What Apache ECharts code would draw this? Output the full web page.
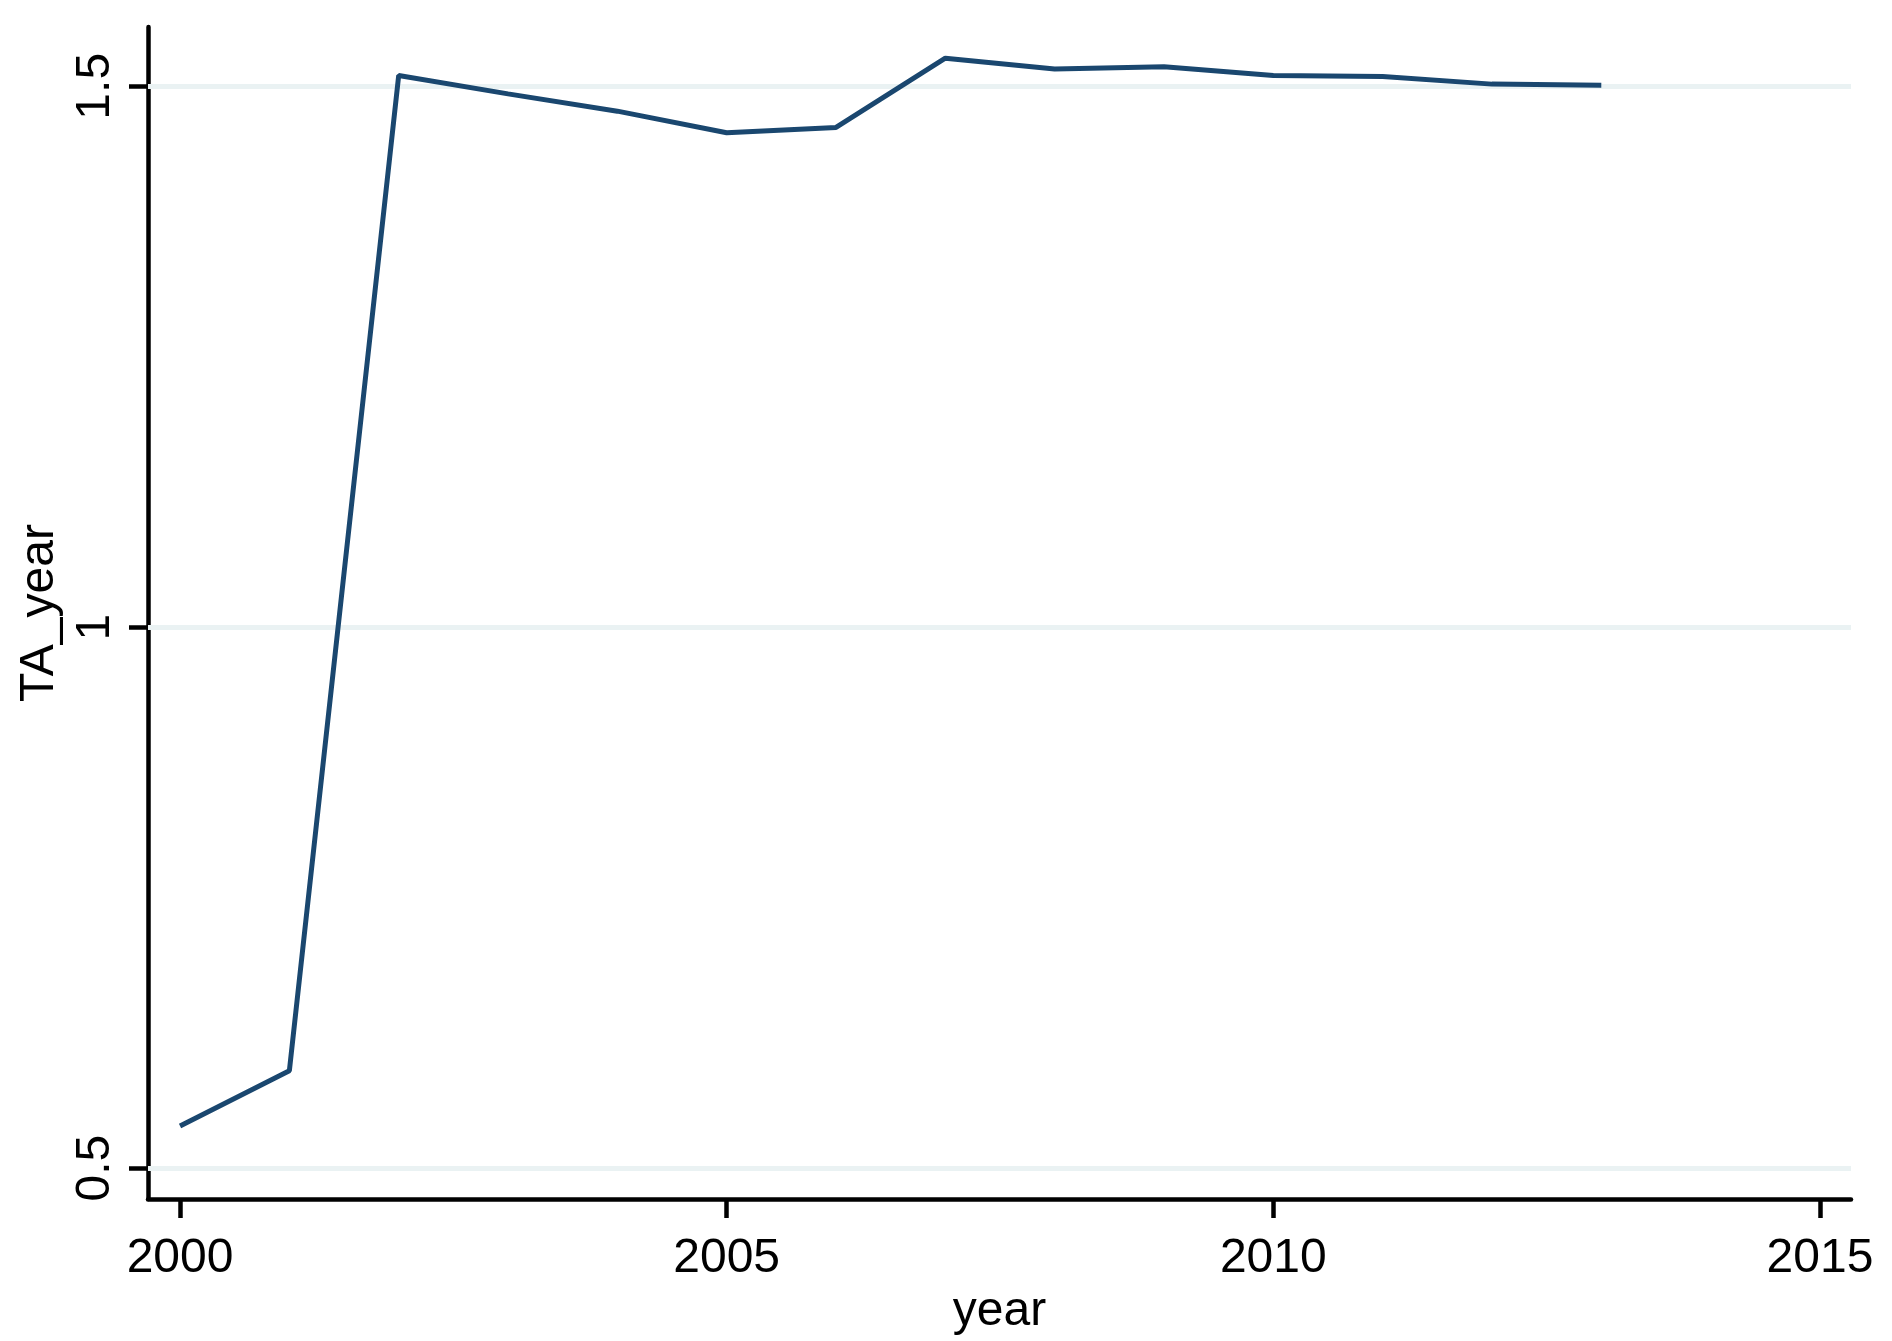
<!DOCTYPE html>
<html>
<head>
<meta charset="utf-8">
<script src="https://cdn.jsdelivr.net/npm/echarts@6/dist/echarts.min.js"></script>
<style>
  html, body { margin: 0; padding: 0; background: #ffffff; }
  #chart { width: 1892px; height: 1341px; }
</style>
</head>
<body>
<div id="chart"></div>
<script>
// ---- data ----
const years = [2000, 2001, 2002, 2003, 2004, 2005, 2006, 2007, 2008, 2009, 2010, 2011, 2012, 2013];
const taYear = [0.539, 0.590, 1.510, 1.493, 1.477, 1.457, 1.462, 1.526, 1.516, 1.518, 1.510, 1.509, 1.502, 1.501];
const xTicks = [2000, 2005, 2010, 2015];
const yTicks = [0.5, 1, 1.5];

const chart = echarts.init(document.getElementById('chart'), null, { renderer: 'canvas' });
const font = "'Liberation Sans', Arial, sans-serif";

chart.setOption({
  backgroundColor: '#ffffff',
  animation: false,
  grid: { left: 148, top: 27, width: 1703, height: 1173, containLabel: false },
  xAxis: {
    type: 'value',
    min: 1999.707,
    max: 2015.284,
    name: 'year',
    nameLocation: 'middle',
    nameGap: 82,
    nameTextStyle: { color: '#000', fontSize: 48, fontFamily: font },
    axisLine: { show: true, lineStyle: { color: '#000', width: 4.5 } },
    axisTick: { show: true, inside: false, length: 19, customValues: xTicks, lineStyle: { color: '#000', width: 4.5 } },
    axisLabel: { show: true, customValues: xTicks, margin: 36, color: '#000', fontSize: 48, fontFamily: font,
      formatter: v => String(v) },
    splitLine: { show: false }
  },
  yAxis: {
    type: 'value',
    min: 0.4714,
    max: 1.5548,
    name: 'TA_year',
    nameLocation: 'middle',
    nameGap: 84,
    nameTextStyle: { color: '#000', fontSize: 48, fontFamily: font },
    axisLine: { show: true, lineStyle: { color: '#000', width: 4.5 } },
    axisTick: { show: true, inside: false, length: 19, customValues: yTicks, lineStyle: { color: '#000', width: 4.5 } },
    axisLabel: { show: true, customValues: yTicks, rotate: 90, margin: 28, color: '#000', fontSize: 48, fontFamily: font,
      formatter: v => String(v) },
    splitLine: { show: false }
  },
  series: [
    {
      type: 'line',
      data: years.map((y, i) => [y, taYear[i]]),
      showSymbol: false,
      symbol: 'none',
      lineStyle: { color: '#1a476f', width: 5 },
      z: 3,
      markLine: {
        silent: true,
        symbol: ['none', 'none'],
        label: { show: false },
        lineStyle: { color: '#eaf2f3', width: 5, type: 'solid' },
        data: yTicks.map(v => ({ yAxis: v })),
        z: 1
      }
    }
  ]
});
</script>
</body>
</html>
